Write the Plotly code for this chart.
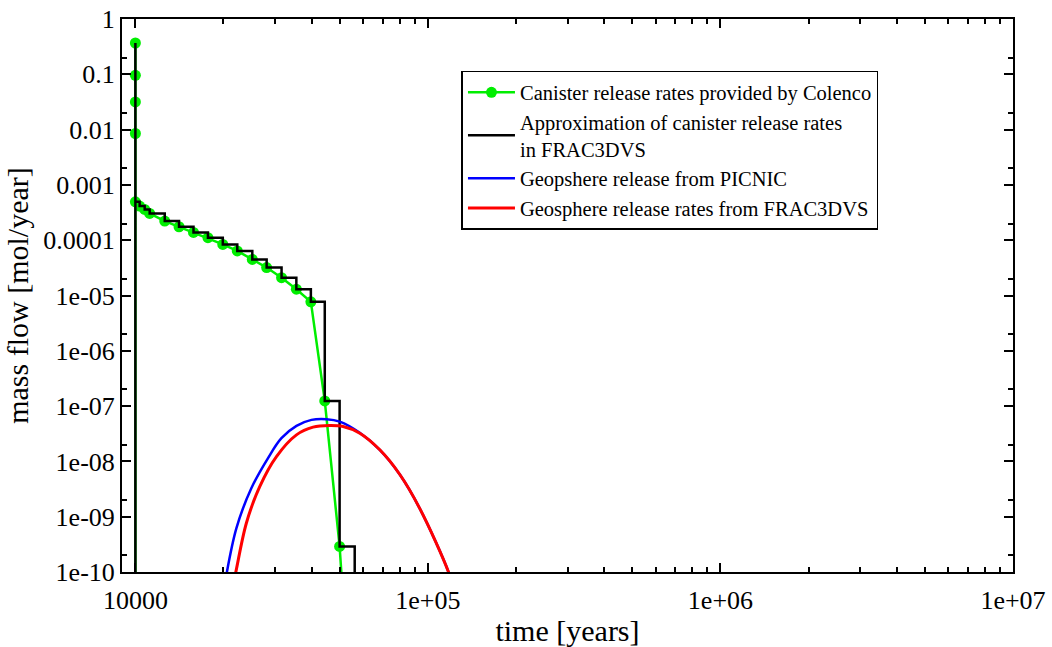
import numpy as np
import plotly.graph_objects as go

# ---- data ----
colenco_x = [10000, 10000, 10000, 10000, 10000, 10000, 10340, 10760, 11190, 12600,
             14100, 15800, 17700, 19900, 22300, 25100, 28100, 31600, 35500, 39800,
             44400, 49900, 56200]
colenco_y = [1e-20, 0.368, 0.096, 0.0317, 0.0085, 4.95e-4, 4.14e-4, 3.6e-4, 3.05e-4, 2.22e-4,
             1.75e-4, 1.38e-4, 1.11e-4, 8.4e-5, 6.4e-5, 4.5e-5, 3.2e-5, 2.1e-5, 1.3e-5, 7.7e-6,
             1.24e-7, 2.9e-10, 2.5e-14]

approx_x = list(colenco_x)
approx_y = list(colenco_y)

picnic_x = [20000, 22150, 24930, 28410, 31570, 35530, 39990, 45000, 49960, 58480,
            68470, 80150, 93830, 118000, 122000]
picnic_y = [4.4e-11, 6.2e-10, 3.3e-9, 1.15e-8, 2.63e-8, 4.39e-8, 5.63e-8, 5.8e-8, 5.25e-8, 3.3e-8,
            1.62e-8, 5.8e-9, 1.4e-9, 9.5e-11, 5.0e-11]

frac_x = [21500, 22030, 23960, 26610, 30350, 35530, 40490, 46180, 51290, 58480,
          68470, 80150, 93830, 118000, 122000]
frac_y = [5.5e-11, 9.8e-11, 7.7e-10, 3.5e-9, 1.22e-8, 3.02e-8, 4.16e-8, 4.45e-8, 4.27e-8, 3.24e-8,
          1.62e-8, 5.8e-9, 1.4e-9, 9.5e-11, 5.0e-11]

x_tickvals = [1e4, 1e5, 1e6, 1e7]
x_ticktext = ["10000", "1e+05", "1e+06", "1e+07"]
y_tickvals = [1e-10, 1e-9, 1e-8, 1e-7, 1e-6, 1e-5, 1e-4, 1e-3, 1e-2, 1e-1, 1]
y_ticktext = ["1e-10", "1e-09", "1e-08", "1e-07", "1e-06", "1e-05",
              "0.0001", "0.001", "0.01", "0.1", "1"]

FONT = "Liberation Serif"

x_minor = [k * 10.0 ** d for d in range(3, 7) for k in range(2, 10)]
y_minor = [2 * 10.0 ** d for d in range(-10, 0)]

fig = go.Figure()
fig.add_trace(go.Scatter(
    x=colenco_x, y=colenco_y, mode="lines+markers",
    name="Canister release rates provided by Colenco",
    line=dict(color="#00ee00", width=2.5),
    marker=dict(color="#00ee00", size=11),
))
fig.add_trace(go.Scatter(
    x=approx_x, y=approx_y, mode="lines", line_shape="hv",
    name="Approximation of canister release rates<br>in FRAC3DVS",
    line=dict(color="black", width=2.5),
))
fig.add_trace(go.Scatter(
    x=picnic_x, y=picnic_y, mode="lines", line_shape="spline",
    name="Geopshere release from PICNIC",
    line=dict(color="#0000ff", width=2.5),
))
fig.add_trace(go.Scatter(
    x=frac_x, y=frac_y, mode="lines", line_shape="spline",
    name="Geosphere release rates from FRAC3DVS",
    line=dict(color="#ff0000", width=3),
))

axis_common = dict(
    showline=True, linecolor="black", linewidth=2, mirror="ticks",
    ticks="inside", ticklen=9, tickwidth=1.5, tickcolor="black",
    showgrid=False, zeroline=False, automargin=False,
    tickfont=dict(family=FONT, size=26, color="black"),
)

fig.update_xaxes(
    type="log", range=[np.log10(9000), 7],
    tickmode="array", tickvals=x_tickvals, ticktext=x_ticktext,
    ticklabelstandoff=4,
    minor=dict(ticks="inside", ticklen=5, tickwidth=1.5, tickcolor="black",
               tickvals=x_minor, showgrid=False),
    title=dict(text="time [years]", font=dict(family=FONT, size=30, color="black"), standoff=10),
    **axis_common,
)
fig.update_yaxes(
    type="log", range=[-10, 0],
    tickmode="array", tickvals=y_tickvals, ticktext=y_ticktext,
    minor=dict(ticks="inside", ticklen=5, tickwidth=1.5, tickcolor="black",
               tickvals=y_minor, showgrid=False),
    title=dict(text="mass flow [mol/year]", font=dict(family=FONT, size=30, color="black"), standoff=6),
    **axis_common,
)

fig.update_layout(
    width=1052, height=647,
    margin=dict(l=122, r=39, t=19, b=75),
    paper_bgcolor="white", plot_bgcolor="white",
    font=dict(family=FONT, color="black"),
    legend=dict(
        x=0.381, y=0.906, xanchor="left", yanchor="top",
        bordercolor="black", borderwidth=1.5, bgcolor="white",
        font=dict(family=FONT, size=20.5, color="black"),
        tracegroupgap=0, itemwidth=47,
    ),
    showlegend=True,
)

fig.write_html("out.html")
